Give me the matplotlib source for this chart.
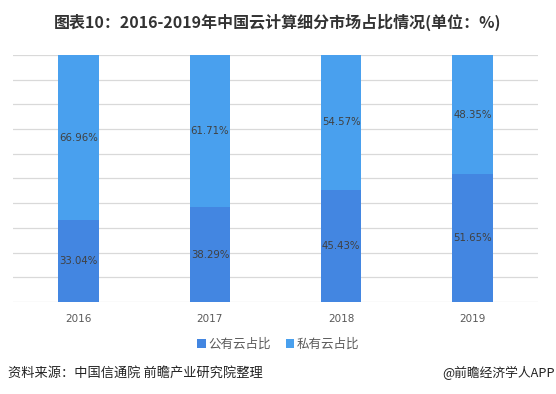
import numpy as np
import matplotlib
matplotlib.use('Agg')
import matplotlib.pyplot as plt

plt.rcParams['font.family'] = ['Noto Sans CJK SC', 'DejaVu Sans']

years = ['2016', '2017', '2018', '2019']
public = [33.04, 38.29, 45.43, 51.65]
private = [66.96, 61.71, 54.57, 48.35]

c_pub = '#4386e1'
c_pri = '#49a0ee'

fig = plt.figure(figsize=(5.56, 3.94), dpi=100)
ax = fig.add_axes([13/556, 1-302/394, (538-13)/556, (302-55)/394])

x = np.arange(len(years))
w = 0.31
ax.bar(x, public, w, color=c_pub, label='公有云占比', zorder=3)
ax.bar(x, private, w, bottom=public, color=c_pri, label='私有云占比', zorder=3)

for i in range(len(years)):
    ax.text(x[i], public[i] / 2, '%.2f%%' % public[i], ha='center', va='center',
            fontsize=7.3, color='#404040', family=['DejaVu Sans'], zorder=4)
    ax.text(x[i], public[i] + private[i] / 2, '%.2f%%' % private[i], ha='center',
            va='center', fontsize=7.3, color='#404040', family=['DejaVu Sans'], zorder=4)

ax.set_xlim(-0.5, 3.5)
ax.set_ylim(0, 100)
ax.set_yticks(np.arange(0, 101, 10))
ax.set_yticklabels([])
ax.grid(axis='y', color='#d9d9d9', linewidth=0.9, zorder=0)
ax.set_xticks(x)
ax.set_xticklabels(years, fontsize=7.5, color='#595959', family=['DejaVu Sans'])
ax.tick_params(length=0, pad=9)
for s in ax.spines.values():
    s.set_visible(False)

fig.text(0.5, 1-22/394, '图表10：2016-2019年中国云计算细分市场占比情况(单位：%)',
         ha='center', va='center', fontsize=11.5, fontweight='bold', color='#333333')

leg = fig.legend(loc='center', bbox_to_anchor=(0.5, 1-344/394), ncol=2, frameon=False,
                 fontsize=9, handlelength=0.7, handleheight=0.7, handletextpad=0.2,
                 columnspacing=1.2)
for t in leg.get_texts():
    t.set_color('#595959')

fig.text(8/556, 1-373/394, '资料来源：中国信通院 前瞻产业研究院整理', ha='left', va='center',
         fontsize=9.5, color='#222222')
fig.text(555/556, 1-373/394, '@前瞻经济学人APP', ha='right', va='center',
         fontsize=9.2, color='#222222')

fig.savefig('out.png', dpi=100)
